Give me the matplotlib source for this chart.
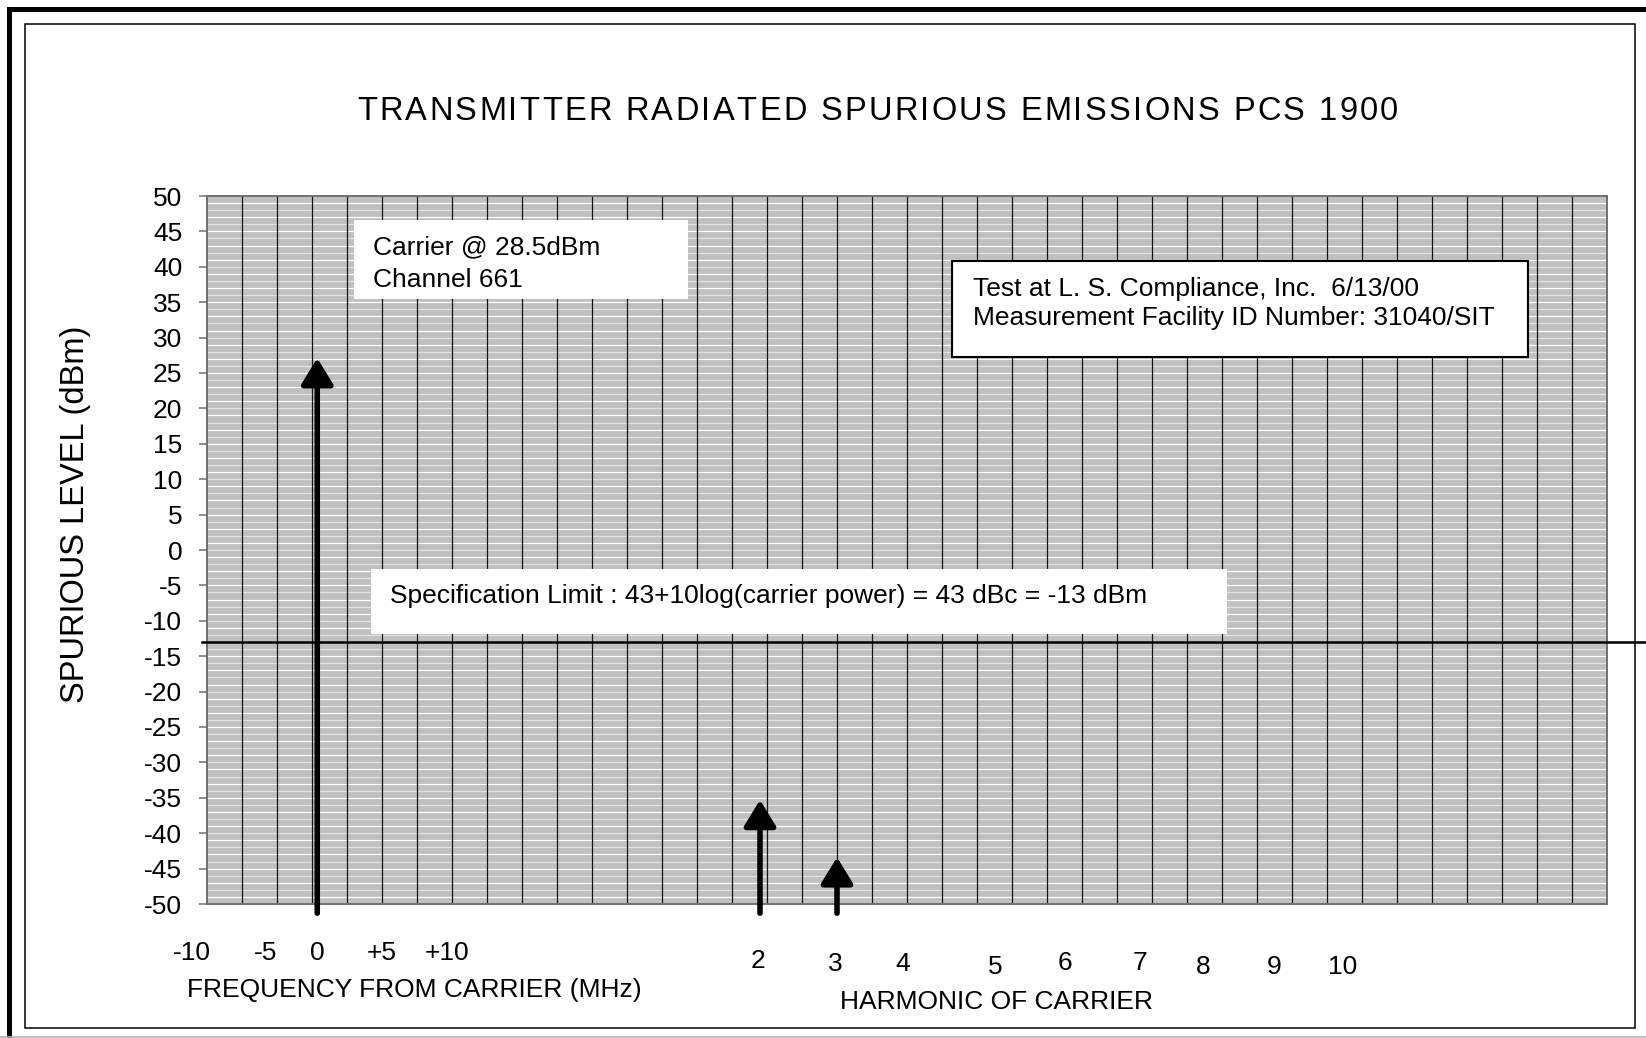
import numpy as np
import matplotlib
matplotlib.use("Agg")
import matplotlib.pyplot as plt
from matplotlib.patches import Rectangle
from matplotlib.lines import Line2D
from matplotlib.transforms import blended_transform_factory
from matplotlib.font_manager import FontProperties

plt.rcParams['font.family'] = ['Liberation Sans', 'DejaVu Sans']
plt.rcParams['axes.unicode_minus'] = False

# данные графика
title = "TRANSMITTER RADIATED SPURIOUS EMISSIONS PCS 1900"
y_label = "SPURIOUS LEVEL (dBm)"
y_ticks = list(range(-50, 55, 5))
n_columns = 40

spec_limit = -13
arrow_x = [3.15, 15.8, 18.0]          # несущая, 2-я и 3-я гармоники
arrow_tip = [27.1, -35.3, -43.4]
arrow_base = -51.3

freq_labels = ['-10', '-5', '0', '+5', '+10']
freq_label_x = [-0.43, 1.68, 3.16, 5.0, 6.87]
harm_labels = ['2', '3', '4', '5', '6', '7', '8', '9', '10']
harm_label_x = [15.74, 17.95, 19.89, 22.51, 24.52, 26.65, 28.47, 30.48, 32.46]
harm_label_base = [968, 971, 971, 974, 970, 970, 974, 974, 974]  # пиксели

carrier_text = ["Carrier @ 28.5dBm", "Channel 661"]
test_text = ["Test at L. S. Compliance, Inc.  6/13/00",
             "Measurement Facility ID Number: 31040/SIT"]
spec_text = "Specification Limit : 43+10log(carrier power) = 43 dBc = -13 dBm"

W, H = 1646, 1038
FS = 19
fig = plt.figure(figsize=(W / 100, H / 100), dpi=100)


def fx(x):
    return x / W


def fy(y):
    return 1 - y / H


# рамки страницы
fig.add_artist(Line2D([fx(8.5), fx(8.5), 1], [0, fy(8.5), fy(8.5)],
                      color='black', lw=3.6, solid_joinstyle='miter'))
fig.add_artist(Rectangle((fx(25), fy(1028)), fx(1610), 1004 / H, transform=fig.transFigure,
                         facecolor='none', edgecolor='black', lw=1.1))
fig.add_artist(Line2D([0, 1], [fy(1036.5), fy(1036.5)], color='#B0B0B0', lw=1.2))

ax = fig.add_axes([fx(207), fy(904), 1400 / W, 708 / H])
ax.set_xlim(0, n_columns)
ax.set_ylim(-50, 50)
ax.set_facecolor('#C0C0C0')

# штриховка фона и сетка
for y in range(-49, 50):
    ax.axhline(y, color='white' if y % 2 else '#E2E2E2', lw=0.9, zorder=0.5)
for x in range(1, n_columns):
    ax.axvline(x, color='#151515', lw=0.9, zorder=1)

for s in ax.spines.values():
    s.set_color('#707070')
    s.set_linewidth(1.4)

ax.set_xticks([])
ax.set_yticks(y_ticks)
ax.tick_params(axis='y', direction='out', length=5.8, width=1.1, color='#707070',
               labelsize=FS, pad=12)

# линия предела
ax.plot([-0.15, 41.09], [spec_limit, spec_limit], color='black', lw=1.8,
        clip_on=False, zorder=3)

# стрелки
for x, tip in zip(arrow_x, arrow_tip):
    ax.annotate('', xy=(x, tip), xytext=(x, arrow_base),
                arrowprops=dict(arrowstyle='-|>,head_length=16,head_width=9.8',
                                mutation_scale=1, lw=4, color='black',
                                shrinkA=0, shrinkB=0, capstyle='round',
                                clip_on=False), zorder=4)

# подписи под осью
tr = blended_transform_factory(ax.transData, fig.transFigure)
for lab, x in zip(freq_labels, freq_label_x):
    ax.text(x, fy(959.5), lab, transform=tr, ha='center', va='baseline', fontsize=FS)
fig.text(fx(414), fy(996.7), "FREQUENCY FROM CARRIER (MHz)", ha='center', va='baseline',
         fontsize=FS)
for lab, x, b in zip(harm_labels, harm_label_x, harm_label_base):
    ax.text(x, fy(b), lab, transform=tr, ha='center', va='baseline', fontsize=FS)
fig.text(fx(997), fy(1009), "HARMONIC OF CARRIER", ha='center', va='baseline', fontsize=FS)

# подпись оси Y
fig.text(fx(76), fy(514), y_label, rotation=90, ha='center', va='center', fontsize=23.5)

# заголовок с разрядкой
tsize = 23.5
tfp = FontProperties(family='Liberation Sans', size=tsize)
rend = fig.canvas.get_renderer()
base_w = rend.get_text_width_height_descent("xx", tfp, ismath=False)[0]
adv = [rend.get_text_width_height_descent("x" + c + "x", tfp, ismath=False)[0] - base_w
       for c in title]
t_width = 1041
track = (t_width - sum(adv)) / (len(title) - 1)
xpos = 877.5 - t_width / 2
for c, a in zip(title, adv):
    if c != ' ':
        fig.text(fx(xpos), fy(119.5), c, ha='left', va='baseline', fontsize=tsize)
    xpos += a + track

# текстовые блоки
fig.add_artist(Rectangle((fx(354), fy(299)), 334 / W, 79 / H, transform=fig.transFigure,
                         facecolor='white', edgecolor='none', zorder=5))
fig.text(fx(373), fy(254), carrier_text[0], fontsize=FS, va='baseline', zorder=6)
fig.text(fx(373), fy(286.7), carrier_text[1], fontsize=FS, va='baseline', zorder=6)

fig.add_artist(Rectangle((fx(952), fy(357)), 576 / W, 96 / H, transform=fig.transFigure,
                         facecolor='white', edgecolor='black', lw=1.5, zorder=5))
fig.text(fx(973), fy(295.7), test_text[0], fontsize=FS, va='baseline', zorder=6)
fig.text(fx(973), fy(325), test_text[1], fontsize=FS, va='baseline', zorder=6)

fig.add_artist(Rectangle((fx(370.5), fy(634)), 856.5 / W, 65 / H, transform=fig.transFigure,
                         facecolor='white', edgecolor='none', zorder=5))
fig.text(fx(390.5), fy(603), spec_text, fontsize=FS, va='baseline', zorder=6)

fig.savefig('out.png', dpi=100)
